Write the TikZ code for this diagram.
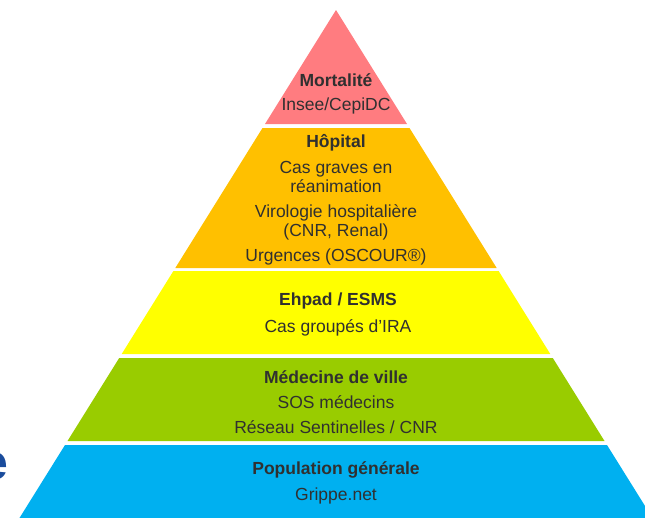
\documentclass[tikz,border=0pt]{standalone}
\usepackage{fontspec}
\setmainfont{Liberation Sans}
\usetikzlibrary{positioning}

\definecolor{mortred}{HTML}{FF7C80}
\definecolor{hoporange}{HTML}{FFC000}
\definecolor{ehpadyellow}{HTML}{FFFF00}
\definecolor{villegreen}{HTML}{99CC00}
\definecolor{popblue}{HTML}{00B0F0}
\definecolor{txtgray}{HTML}{303030}
\definecolor{slideblue}{HTML}{1A4C9C}

\tikzset{
  head/.style={anchor=base, text=txtgray, font=\fontsize{17.5}{20}\selectfont\bfseries, inner sep=0pt},
  item/.style={anchor=base, text=txtgray, font=\fontsize{17.5}{20}\selectfont, inner sep=0pt}
}

\begin{document}
\begin{tikzpicture}[x=1pt, y=-1pt]
  \useasboundingbox (0,0) rectangle (645,517);
  \clip (0,0) rectangle (645,517);
  % pyramid layers
  \fill[mortred] (336,10) -- (407,124) -- (265,124) -- cycle;
  \fill[hoporange] (262.5,128) -- (409.5,128) -- (496.7,268) -- (175.3,268) -- cycle;
  \fill[ehpadyellow] (173.4,271) -- (498.6,271) -- (550.3,354) -- (121.7,354) -- cycle;
  \fill[villegreen] (119.2,358) -- (552.8,358) -- (604.5,441) -- (67.5,441) -- cycle;
  \fill[popblue] (65,445) -- (607,445) -- (660,530) -- (12,530) -- cycle;
  % texts
  \node[head] (mort) at (336,86) {Mortalité};
  \node[item] (insee) at (336,110) {Insee/CepiDC};
  \node[head] (hop) at (336,147) {Hôpital};
  \node[item] (cas) at (336,173) {Cas graves en};
  \node[item] (rea) at (336,192) {réanimation};
  \node[item] (viro) at (336,217) {Virologie hospitalière};
  \node[item] (cnr) at (336,236) {(CNR, Renal)};
  \node[item] (urg) at (336,261) {Urgences (OSCOUR®)};
  \node[head] (ehpad) at (338,305) {Ehpad / ESMS};
  \node[item] (ira) at (338,332) {Cas groupés d’IRA};
  \node[head] (medv) at (336,383) {Médecine de ville};
  \node[item] (sos) at (336,408) {SOS médecins};
  \node[item] (sent) at (336,433) {Réseau Sentinelles / CNR};
  \node[head] (pop) at (336,474) {Population générale};
  \node[item] (grippe) at (336,500) {Grippe.net};
  % cut letter at the left border
  \node[anchor=base east, inner sep=0pt, text=slideblue, font=\fontsize{50}{50}\selectfont\bfseries] (lettre) at (9,479) {e};
\end{tikzpicture}
\end{document}
